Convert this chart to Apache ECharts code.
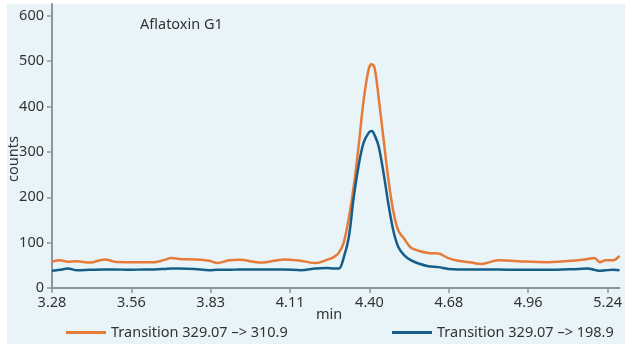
<!DOCTYPE html>
<html>
<head>
<meta charset="utf-8">
<script src="https://cdn.jsdelivr.net/npm/echarts@6/dist/echarts.min.js"></script>
<style>
html,body{margin:0;padding:0;background:#ffffff;}
#chart{width:625px;height:346px;}
</style>
</head>
<body>
<div id="chart"></div>
<script>
// Retention time (min)
var times = [3.280,3.308,3.336,3.368,3.413,3.466,3.501,3.554,3.607,3.642,3.677,3.701,3.730,3.782,3.835,3.863,3.905,3.940,4.018,4.098,4.158,4.211,4.249,4.274,4.292,4.309,4.327,4.344,4.362,4.379,4.397,4.408,4.418,4.432,4.450,4.467,4.485,4.502,4.523,4.544,4.573,4.608,4.643,4.678,4.713,4.759,4.794,4.854,4.924,5.029,5.135,5.170,5.194,5.212,5.233,5.258,5.282];
// Transition 329.07 -> 310.9 (counts)
var orangeCounts = [58,61,58,59,56,63,58,57,57,57,62,66,64,63,60,55,61,62,56,63,60,55,62,68,78,100,154,222,315,412,482,493,485,421,326,238,166,126,108,90,82,77,76,66,60,56,53,61,59,57,61,64,66,57,61,61,71];
// Transition 329.07 -> 198.9 (counts)
var blueCounts = [38,40,43,39,40,41,41,40,41,41,42,43,43,42,39,40,40,41,41,41,39,43,44,43,43,67,112,198,271,320,342,346,337,313,252,184,124,90,72,62,54,48,46,42,41,41,41,41,40,40,42,43,40,38,39,40,39];
var seriesNames = ['Transition 329.07 \u2013> 310.9', 'Transition 329.07 \u2013> 198.9'];
var xTickValues = [3.28,3.56,3.84,4.12,4.40,4.68,4.96,5.24];
var xTickLabels = ['3.28','3.56','3.83','4.11','4.40','4.68','4.96','5.24'];
var titleText = 'Aflatoxin G1';
var xName = 'min';
var yName = 'counts';

function pairs(xs, ys){ var r=[]; for(var i=0;i<xs.length;i++){ r.push([xs[i], ys[i]]); } return r; }

var FONT = 'Noto Sans';
var FS = 14.5;
var TXT = '#333333';
var AXIS = '#8c969b';
var ORANGE = '#e67b38';
var BLUE = '#165d8a';

var chart = echarts.init(document.getElementById('chart'), null, {renderer:'canvas'});
chart.setOption({
  backgroundColor: 'transparent',
  animation: false,
  textStyle: {fontFamily: FONT},
  graphic: [
    {type:'rect', z:-10, shape:{x:7, y:4, width:618, height:340}, style:{fill:'#e8f4f8'}, silent:true},
    {type:'text', left:140, top:17, style:{text:titleText, fontFamily:FONT, fontSize:FS, fill:TXT}},
    {type:'text', x:316, y:307, style:{text:xName, fontFamily:FONT, fontSize:FS, fill:TXT}},
    {type:'text', x:6, y:182, rotation:Math.PI/2, style:{text:yName, fontFamily:FONT, fontSize:FS, fill:TXT}}
  ],
  legend: [
    {left:66, top:325, padding:0, itemWidth:40, itemHeight:3, itemGap:7, icon:'rect',
     textStyle:{fontFamily:FONT, fontSize:FS, color:TXT}, data:[seriesNames[0]]},
    {left:392, top:325, padding:0, itemWidth:40, itemHeight:3, itemGap:7, icon:'rect',
     textStyle:{fontFamily:FONT, fontSize:FS, color:TXT}, data:[seriesNames[1]]}
  ],
  grid: {left:52, right:3, top:4, bottom:58, containLabel:false},
  xAxis: {
    type:'value', min:3.28, max:5.282,
    axisLine:{show:true, onZero:false, lineStyle:{color:AXIS, width:2}},
    axisTick:{show:true, length:5, customValues:xTickValues, lineStyle:{color:AXIS, width:1.5}},
    axisLabel:{customValues:xTickValues, color:TXT, fontSize:FS, fontFamily:FONT, margin:7,
      formatter:function(v){ var best=0, d=1e9; for(var i=0;i<xTickValues.length;i++){ var dd=Math.abs(xTickValues[i]-v); if(dd<d){d=dd;best=i;} } return xTickLabels[best]; }},
    splitLine:{show:false}
  },
  yAxis: {
    type:'value', min:0, max:626, interval:100,
    axisLine:{show:true, lineStyle:{color:AXIS, width:2}},
    axisTick:{show:true, length:5, lineStyle:{color:AXIS, width:1.5}},
    axisLabel:{color:TXT, fontSize:FS, fontFamily:FONT, margin:8, showMaxLabel:false,
      formatter:function(v){ return v>600 ? '' : String(v); }},
    splitLine:{show:false}
  },
  series: [
    {name:seriesNames[0], type:'line', data:pairs(times, orangeCounts), smooth:0.35, symbol:'none',
     lineStyle:{color:ORANGE, width:2.5}, itemStyle:{color:ORANGE}},
    {name:seriesNames[1], type:'line', data:pairs(times, blueCounts), smooth:0.35, symbol:'none',
     lineStyle:{color:BLUE, width:2.5}, itemStyle:{color:BLUE}}
  ]
});
</script>
</body>
</html>
